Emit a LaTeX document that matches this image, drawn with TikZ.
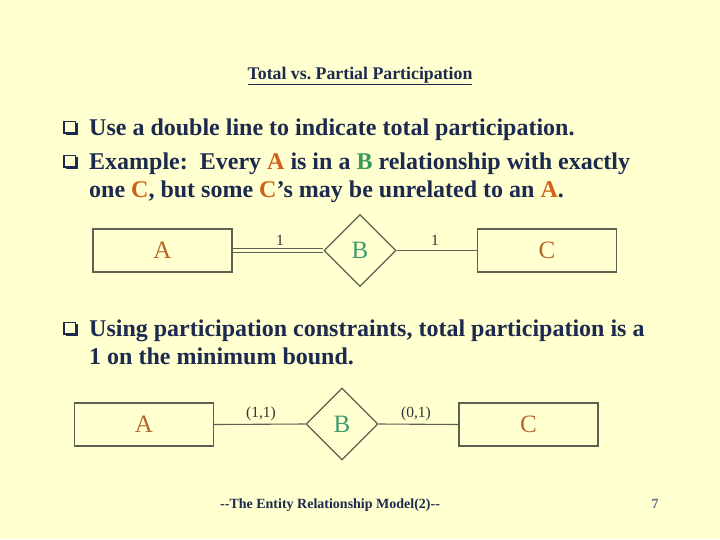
\documentclass[tikz,border=0pt]{standalone}
\usepackage{fontspec}
\setmainfont{Liberation Serif}
\usetikzlibrary{shapes.geometric}
\definecolor{bgc}{HTML}{FFFFCF}
\definecolor{navy}{HTML}{1D2A4F}
\definecolor{orng}{HTML}{D2601A}
\definecolor{grn}{HTML}{3A9A5A}
\definecolor{entc}{HTML}{B8652A}
\definecolor{relc}{HTML}{3E9C70}
\definecolor{linec}{HTML}{5F5F52}
\tikzset{
  bodytext/.style={anchor=base west, inner sep=0pt, text=navy, font=\fontsize{24}{28}\selectfont\bfseries},
  entity/.style={draw=linec, line width=1.2pt, minimum width=139pt, minimum height=43pt, inner sep=0pt, text=entc, font=\fontsize{25}{28}\selectfont},
  relation/.style={diamond, draw=linec, line width=1.2pt, minimum width=72pt, minimum height=72pt, inner sep=0pt, text=relc, font=\fontsize{25}{28}\selectfont},
  conn/.style={draw=linec, line width=1.1pt},
  card/.style={inner sep=0pt, text=black!80, font=\fontsize{15.5}{17}\selectfont},
}
\newcommand{\qbullet}[2]{%
  \draw[navy, line width=1.2pt] (#1+1,#2-13.5) rectangle (#1+12.5,#2-2);
  \draw[navy, line width=2pt] (#1+2.5,#2-0.7) -- (#1+13.8,#2-0.7) -- (#1+13.8,#2-12);
}
\begin{document}
\begin{tikzpicture}[x=1pt,y=-1pt]
\fill[bgc] (0,0) rectangle (720,539);
\useasboundingbox (0,0) rectangle (720,539);

\node[anchor=base, inner sep=0pt, text=navy, font=\fontsize{17.8}{20}\selectfont\bfseries] (title) at (360,79) {\underline{Total vs.\ Partial Participation}};

\qbullet{63}{135}
\node[bodytext] (l1) at (89,135) {Use a double line to indicate total participation.};
\qbullet{63}{169}
\node[bodytext] (l2) at (89,169) {Example:\ \ Every \textcolor{orng}{A} is in a \textcolor{grn}{B} relationship with exactly};
\node[bodytext] (l3) at (89,197) {one \textcolor{orng}{C}, but some \textcolor{orng}{C}’s may be unrelated to an \textcolor{orng}{A}.};

\node[entity] (A1) at (162.5,250.5) {A};
\node[relation] (B1) at (360,250.5) {B};
\node[entity] (C1) at (547,250.5) {C};
\draw[conn, double=bgc, double distance=2.6pt] (A1.east) -- (B1.west);
\draw[conn] (B1.east) -- (C1.west);
\node[card] (c11) at (280,240) {1};
\node[card] (c12) at (435,240) {1};

\qbullet{63}{336}
\node[bodytext] (l4) at (89,336) {Using participation constraints, total participation is a};
\node[bodytext] (l5) at (89,364) {1 on the minimum bound.};

\node[entity] (A2) at (144,424.5) {A};
\node[relation] (B2) at (342,424) {B};
\node[entity] (C2) at (528.5,424.5) {C};
\draw[conn] (A2.east) -- (B2.west);
\draw[conn] (B2.east) -- (C2.west);
\node[card] (c21) at (261,414) {(1,1)};
\node[card] (c22) at (416,414) {(0,1)};

\node[anchor=base west, inner sep=0pt, text=navy, font=\fontsize{14}{16}\selectfont\bfseries] (foot) at (220,508) {-{}-The Entity Relationship Model(2)-{}-};
\node[anchor=base, inner sep=0pt, text=navy!70, font=\fontsize{14}{16}\selectfont\bfseries] (pg) at (655,508) {7};
\end{tikzpicture}
\end{document}
